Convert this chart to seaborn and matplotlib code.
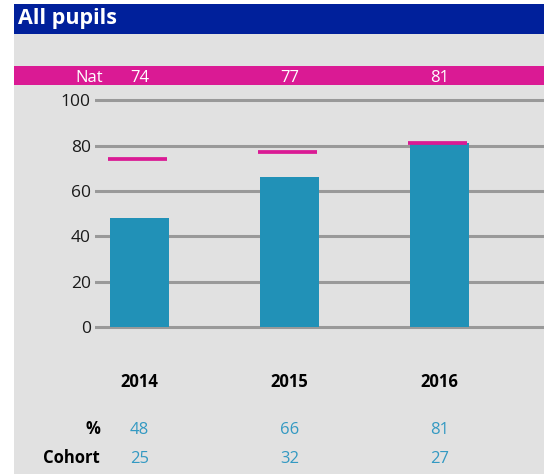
import matplotlib
matplotlib.use('Agg')
import matplotlib.pyplot as plt
import matplotlib.transforms as mtransforms
from matplotlib.patches import Rectangle
import pandas as pd
import seaborn as sns

# ── Data ──────────────────────────────────────────────────────────────────────
years    = ['2014', '2015', '2016']
pupils   = [48, 66, 81]
national = [74, 77, 81]
cohort   = [25, 32, 27]
y_ticks  = [0, 20, 40, 60, 80, 100]

# ── Colours ───────────────────────────────────────────────────────────────────
HEADER  = '#00209B'
PANEL   = '#E1E1E1'
MAGENTA = '#DA1A94'
BAR     = '#2191B7'
VALUE   = '#3399C2'
GRID    = '#999999'

W, H = 544, 474

sns.set_theme(style='white')
plt.rcParams['font.family'] = ['Open Sans', 'DejaVu Sans']

fig = plt.figure(figsize=(W / 100, H / 100), dpi=100)
fig.patch.set_facecolor('white')

def fy(y):
    # pixel row from top -> figure fraction
    return 1 - y / H

# ── Background blocks ─────────────────────────────────────────────────────────
fig.patches.append(Rectangle((14 / W, 0), (W - 14) / W, fy(34), transform=fig.transFigure,
                             facecolor=PANEL, edgecolor='none', zorder=-2))
fig.patches.append(Rectangle((14 / W, fy(34)), (W - 14) / W, 30 / H, transform=fig.transFigure,
                             facecolor=HEADER, edgecolor='none', zorder=-2))
fig.patches.append(Rectangle((14 / W, fy(85)), (W - 14) / W, 19 / H, transform=fig.transFigure,
                             facecolor=MAGENTA, edgecolor='none', zorder=-2))
fig.text(18 / W, fy(24), 'All pupils', color='white', fontsize=15.5, fontweight='bold', va='baseline')

# ── Bars ──────────────────────────────────────────────────────────────────────
ax = fig.add_axes([95 / W, fy(331.5), (W - 95) / W, (331.5 - 95.8) / H])
ax.set_zorder(2)
ax.patch.set_alpha(0)

df = pd.DataFrame({'year': years, 'pct': pupils})
bar_w = 0.393
sns.barplot(data=df, x='year', y='pct', color=BAR, saturation=1, width=bar_w, ax=ax,
            linewidth=0, edgecolor='none', zorder=3)

xs = list(range(len(years)))
off = 0.013
ax.hlines(national, [x - bar_w / 2 - off for x in xs], [x + bar_w / 2 - off for x in xs],
          color=MAGENTA, linewidth=2.7, zorder=4)

ax.set_xlim(-0.297, 2.697)
ax.set_ylim(-2, 102)
ax.set_yticks(y_ticks)
ax.set_xticks([])
ax.set_xlabel('')
ax.set_ylabel('')
ax.yaxis.grid(True, color=GRID, linewidth=2.2)
ax.xaxis.grid(False)
ax.set_axisbelow(True)
ax.tick_params(axis='y', length=0, pad=3, labelsize=12.5, labelcolor='#1a1a1a')
for s in ax.spines.values():
    s.set_visible(False)

# ── Labels below / above ──────────────────────────────────────────────────────
tr = mtransforms.blended_transform_factory(ax.transData, fig.transFigure)
fig.text(103 / W, fy(82), 'Nat', color='white', fontsize=12, ha='right', va='baseline')
for x, yr, p, n, c in zip(xs, years, pupils, national, cohort):
    ax.text(x, fy(82), str(n), transform=tr, color='white', fontsize=12, ha='center', va='baseline')
    ax.text(x, fy(387), yr, transform=tr, color='black', fontsize=12, fontweight='bold',
            ha='center', va='baseline')
    ax.text(x, fy(434), str(p), transform=tr, color=VALUE, fontsize=12, ha='center', va='baseline')
    ax.text(x, fy(463), str(c), transform=tr, color=VALUE, fontsize=12, ha='center', va='baseline')

fig.text(100 / W, fy(434), '%', color='black', fontsize=12, fontweight='bold', ha='right', va='baseline')
fig.text(100 / W, fy(463), 'Cohort', color='black', fontsize=12, fontweight='bold', ha='right', va='baseline')

fig.savefig('out.png', dpi=100, facecolor='white')
